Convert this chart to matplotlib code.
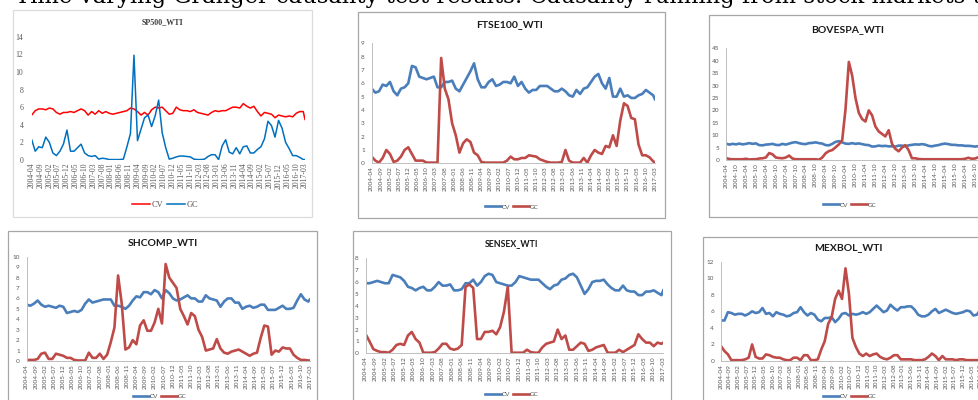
import numpy as np
import matplotlib.pyplot as plt
from matplotlib.patches import Rectangle

W, H = 979, 400

# month index counted from 2004-04, sampled every two months plus the last month (2017-03)
months = list(range(0, 155, 2)) + [155]

labels_5 = ["2004-04", "2004-09", "2005-02", "2005-07", "2005-12", "2006-05", "2006-10", "2007-03",
            "2007-08", "2008-01", "2008-06", "2008-11", "2009-04", "2009-09", "2010-02", "2010-07",
            "2010-12", "2011-05", "2011-10", "2012-03", "2012-08", "2013-01", "2013-06", "2013-11",
            "2014-04", "2014-09", "2015-02", "2015-07", "2015-12", "2016-05", "2016-10", "2017-03"]
labels_6 = ["2004-04", "2004-10", "2005-04", "2005-10", "2006-04", "2006-10", "2007-04", "2007-10",
            "2008-04", "2008-10", "2009-04", "2009-10", "2010-04", "2010-10", "2011-04", "2011-10",
            "2012-04", "2012-10", "2013-04", "2013-10", "2014-04", "2014-10", "2015-04", "2015-10",
            "2016-04", "2016-10"]

sp500_cv = [5.1, 5.6, 5.8, 5.8, 5.7, 5.9, 5.8, 5.4, 5.2, 5.4,
            5.4, 5.5, 5.4, 5.6, 5.8, 5.6, 5.1, 5.5, 5.2, 5.6,
            5.3, 5.5, 5.3, 5.2, 5.3, 5.4, 5.5, 5.6, 5.9, 5.8,
            5.5, 5.1, 5.4, 5.1, 5.7, 6.0, 5.9, 6.0, 5.6, 5.2,
            5.3, 6.0, 5.7, 5.6, 5.6, 5.5, 5.7, 5.4, 5.3, 5.2,
            5.1, 5.4, 5.6, 5.5, 5.6, 5.6, 5.8, 6.0, 6.0, 5.9,
            6.4, 6.1, 5.9, 6.1, 5.5, 5.0, 5.4, 5.3, 5.2, 4.8,
            5.1, 5.0, 4.9, 5.0, 4.9, 5.3, 5.5, 5.5, 4.6]
sp500_gc = [2.3, 1.0, 1.5, 1.4, 2.6, 2.0, 0.8, 0.5, 1.0, 1.8,
            3.4, 1.0, 1.0, 1.4, 1.8, 0.8, 0.5, 0.4, 0.5, 0.1,
            0.2, 0.15, 0.05, 0.05, 0.05, 0.05, 0.1, 1.5, 3.0, 11.9,
            2.2, 3.5, 4.8, 5.1, 3.8, 5.0, 6.8, 3.1, 1.4, 0.1,
            0.2, 0.35, 0.45, 0.45, 0.4, 0.35, 0.1, 0.05, 0.05, 0.1,
            0.4, 0.6, 0.6, 0.05, 1.6, 2.3, 0.9, 0.7, 1.4, 0.7,
            1.5, 1.6, 0.8, 0.8, 1.2, 1.5, 2.4, 4.4, 3.9, 2.6,
            4.5, 3.6, 2.0, 1.3, 0.5, 0.5, 0.3, 0.05, 0.05]

ftse_cv = [5.6, 5.3, 5.4, 5.9, 5.8, 6.1, 5.4, 5.1, 5.6, 5.7,
           6.0, 7.3, 7.2, 6.5, 6.4, 6.3, 6.4, 6.5, 5.7, 5.7,
           6.1, 6.1, 6.2, 5.6, 5.4, 5.9, 6.4, 6.9, 7.5, 6.3,
           5.7, 5.7, 6.1, 6.3, 5.8, 5.9, 6.1, 6.1, 6.0, 6.5,
           5.8, 6.1, 5.6, 5.3, 5.5, 5.5, 5.8, 5.8, 5.8, 5.6,
           5.4, 5.4, 5.6, 5.4, 5.1, 5.0, 5.5, 5.2, 5.6, 5.7,
           6.1, 6.5, 6.7, 6.0, 5.6, 6.4, 5.0, 5.0, 5.6, 5.0,
           5.1, 4.9, 4.9, 5.1, 5.2, 5.5, 5.3, 5.1, 4.8]
ftse_gc = [0.5, 0.2, 0.05, 0.4, 1.0, 0.7, 0.1, 0.2, 0.5, 1.0,
           1.2, 0.7, 0.2, 0.2, 0.2, 0.05, 0.05, 0.05, 0.05, 7.9,
           5.6, 4.8, 3.0, 2.1, 0.8, 1.5, 1.8, 1.6, 0.8, 0.6,
           0.1, 0.05, 0.05, 0.05, 0.05, 0.05, 0.05, 0.2, 0.5, 0.3,
           0.3, 0.4, 0.4, 0.6, 0.55, 0.5, 0.3, 0.2, 0.1, 0.05,
           0.05, 0.05, 0.1, 1.0, 0.2, 0.05, 0.05, 0.05, 0.4, 0.05,
           0.6, 1.0, 0.8, 0.7, 1.3, 1.2, 2.1, 1.3, 3.2, 4.5,
           4.3, 3.4, 3.3, 1.4, 0.6, 0.6, 0.45, 0.15, 0.05]

bovespa_cv = [6.6, 6.2, 6.5, 6.3, 6.6, 6.3, 6.5, 6.8, 6.5, 6.7,
              6.0, 5.9, 6.2, 6.3, 6.5, 6.1, 6.0, 6.5, 6.2, 6.6,
              7.0, 7.2, 6.8, 6.5, 6.4, 6.8, 6.9, 7.1, 6.8, 6.6,
              6.0, 5.9, 6.5, 7.3, 7.6, 7.1, 6.6, 6.5, 6.8, 6.5,
              6.7, 6.4, 6.1, 6.0, 5.4, 5.5, 5.8, 5.6, 5.7, 5.5,
              5.5, 5.4, 5.8, 5.8, 5.5, 5.9, 6.1, 6.3, 6.2, 6.4,
              6.2, 5.7, 5.5, 5.8, 6.0, 6.4, 6.6, 6.4, 6.1, 6.1,
              5.9, 5.9, 5.7, 5.7, 5.6, 5.4, 5.6, 5.8, 5.9]
bovespa_gc = [0.8, 0.4, 0.3, 0.3, 0.3, 0.3, 0.5, 0.2, 0.3, 0.3,
              0.6, 0.7, 1.0, 2.8, 2.3, 1.0, 0.8, 0.7, 1.0, 1.8,
              0.6, 0.3, 0.3, 0.3, 0.3, 0.3, 0.3, 0.3, 0.1, 1.0,
              2.7, 3.6, 4.0, 5.1, 6.3, 8.0, 20.5, 39.5, 34.0, 25.0,
              19.0, 16.5, 15.5, 20.0, 18.0, 13.5, 11.5, 10.5, 9.5, 12.0,
              6.5, 4.5, 3.5, 5.0, 6.0, 4.0, 0.7, 0.7, 0.4, 0.3,
              0.3, 0.3, 0.3, 0.3, 0.3, 0.3, 0.3, 0.3, 0.3, 0.3,
              0.3, 0.3, 0.5, 0.9, 0.5, 0.6, 1.1, 1.3, 1.4]

shcomp_cv = [5.4, 5.3, 5.5, 5.8, 5.4, 5.2, 5.3, 5.2, 5.1, 5.3,
             5.2, 4.6, 4.7, 4.8, 4.7, 4.9, 5.5, 5.9, 5.6, 5.7,
             5.8, 5.9, 5.9, 5.9, 5.3, 5.3, 5.2, 5.0, 5.3, 5.8,
             6.2, 6.1, 6.6, 6.6, 6.4, 6.8, 6.6, 6.0, 6.8, 6.5,
             6.0, 5.8, 5.9, 6.1, 6.3, 6.0, 6.0, 5.7, 5.7, 6.3,
             6.0, 5.9, 5.8, 5.2, 5.7, 6.0, 6.0, 5.6, 5.6, 5.0,
             5.2, 5.3, 5.1, 5.2, 5.4, 5.4, 4.9, 4.9, 4.9, 5.1,
             5.3, 5.0, 5.0, 5.1, 5.8, 6.4, 5.9, 5.7, 5.9]
shcomp_gc = [0.1, 0.1, 0.1, 0.2, 0.7, 0.8, 0.2, 0.2, 0.7, 0.6,
             0.5, 0.3, 0.3, 0.1, 0.05, 0.05, 0.05, 0.8, 0.3, 0.3,
             0.7, 0.2, 0.6, 1.8, 3.2, 8.2, 5.5, 1.1, 1.3, 2.0,
             1.6, 3.4, 3.9, 2.9, 2.9, 3.7, 5.0, 3.6, 9.3, 8.0,
             7.5, 7.0, 5.0, 4.3, 3.5, 4.6, 4.3, 3.0, 2.3, 1.0,
             1.1, 1.2, 2.1, 1.2, 0.8, 0.7, 0.9, 1.0, 1.1, 0.9,
             0.7, 0.5, 0.7, 0.8, 2.2, 3.4, 3.3, 0.6, 1.0, 0.9,
             1.3, 1.2, 1.2, 0.6, 0.3, 0.1, 0.1, 0.05, 0.05]

sensex_cv = [5.9, 5.9, 6.0, 6.1, 6.0, 5.9, 5.9, 6.6, 6.5, 6.4,
             6.1, 5.6, 5.5, 5.3, 5.5, 5.6, 5.3, 5.3, 5.6, 6.0,
             5.7, 5.7, 5.8, 5.3, 5.3, 5.4, 5.9, 5.9, 6.2, 5.7,
             6.0, 6.5, 6.7, 6.6, 6.0, 5.9, 5.8, 5.7, 5.7, 6.0,
             6.5, 6.4, 6.3, 6.2, 6.2, 6.2, 5.9, 5.6, 5.4, 5.7,
             5.8, 6.2, 6.3, 6.6, 6.7, 6.4, 5.7, 5.0, 5.4, 6.0,
             6.1, 6.1, 6.2, 5.8, 5.5, 5.3, 5.3, 5.7, 5.3, 5.2,
             5.2, 4.9, 4.9, 5.2, 5.2, 5.3, 5.1, 4.9, 5.3]
sensex_gc = [1.6, 1.0, 0.35, 0.2, 0.1, 0.1, 0.05, 0.3, 0.7, 0.8,
             0.7, 1.5, 1.8, 1.2, 0.9, 0.05, 0.05, 0.05, 0.1, 0.4,
             0.8, 0.8, 0.4, 0.3, 0.4, 0.7, 5.6, 5.8, 5.5, 1.2,
             1.2, 1.8, 1.8, 1.9, 1.6, 2.2, 3.5, 5.6, 0.05, 0.05,
             0.05, 0.05, 0.3, 0.1, 0.05, 0.05, 0.5, 0.8, 0.9, 1.0,
             2.0, 1.2, 1.5, 0.3, 0.3, 0.6, 0.9, 0.8, 0.2, 0.3,
             0.5, 0.6, 0.7, 0.05, 0.05, 0.05, 0.3, 0.1, 0.3, 0.5,
             0.7, 1.6, 1.2, 0.9, 0.9, 0.6, 0.9, 0.8, 0.9]

mexbol_cv = [4.9, 4.9, 5.9, 5.8, 5.6, 5.7, 5.7, 5.5, 5.7, 6.0,
             5.8, 5.9, 6.4, 5.7, 5.8, 5.4, 5.9, 5.7, 5.6, 5.4,
             5.5, 5.8, 5.9, 6.5, 5.9, 5.5, 5.8, 5.6, 5.0, 4.8,
             5.2, 5.2, 5.3, 4.7, 5.1, 5.7, 5.8, 5.5, 5.7, 5.6,
             5.7, 5.9, 5.7, 5.9, 6.3, 6.7, 6.3, 5.9, 6.1, 6.8,
             6.4, 6.1, 6.5, 6.5, 6.6, 6.6, 6.2, 5.6, 5.4, 5.4,
             5.6, 6.0, 6.3, 5.8, 6.0, 6.2, 6.0, 5.8, 5.7, 5.8,
             5.9, 6.1, 6.0, 5.5, 5.6, 6.2, 6.0, 5.8, 5.9]
mexbol_gc = [1.8, 1.2, 0.8, 0.1, 0.1, 0.1, 0.1, 0.2, 0.4, 2.0,
             0.5, 0.3, 0.3, 0.8, 0.7, 0.5, 0.4, 0.4, 0.2, 0.1,
             0.1, 0.4, 0.4, 0.1, 0.7, 0.7, 0.1, 0.1, 0.2, 1.4,
             2.4, 4.5, 5.3, 7.5, 8.5, 7.5, 11.2, 8.1, 2.8, 1.7,
             0.9, 0.6, 0.9, 0.6, 0.8, 0.9, 0.5, 0.3, 0.2, 0.4,
             0.7, 0.7, 0.2, 0.2, 0.2, 0.2, 0.1, 0.1, 0.1, 0.2,
             0.5, 0.9, 0.6, 0.1, 0.6, 0.2, 0.2, 0.2, 0.1, 0.2,
             0.2, 0.1, 0.1, 0.1, 0.1, 0.05, 0.05, 0.05, 0.05]

XL_BLUE, XL_RED = "#4a7ebb", "#be4b48"
SANS = ["Lato", "DejaVu Sans"]
SERIF = ["Liberation Serif", "DejaVu Serif"]


def fx(px):
    return px / W


def fy(py):
    return 1 - py / H


def draw_panel(fig, name, cv, gc, box, area, ymax, ystep, labels, lstep, title_xy, leg_xy,
               excel=True, title_size=7.5):
    l, t, r, b = box
    fig.add_artist(Rectangle((fx(l), fy(b)), fx(r) - fx(l), fy(t) - fy(b), transform=fig.transFigure,
                             fill=False, edgecolor="#a6a6a6" if excel else "#dcdcdc", lw=0.9))
    x0, x1, ybot, ytop = area
    ax = fig.add_axes([fx(x0), fy(ybot), fx(x1) - fx(x0), fy(ytop) - fy(ybot)])
    ax.patch.set_alpha(0)

    if excel:
        c_cv, c_gc, lw, fam = XL_BLUE, XL_RED, 1.9, SANS
    else:
        c_cv, c_gc, lw, fam = "#ff0000", "#0070c0", 1.1, SERIF

    l_cv, = ax.plot(months, cv, color=c_cv, lw=lw, solid_joinstyle="round", label="CV")
    l_gc, = ax.plot(months, gc, color=c_gc, lw=lw, solid_joinstyle="round", label="GC")
    if not excel:
        # GC drawn on top in the SP500 chart
        l_gc.set_zorder(3)

    ax.set_xlim(0, 155)
    ax.set_ylim(0, ymax)
    ax.set_yticks(np.arange(0, ymax + 0.01, ystep))
    ax.set_xticks(np.arange(len(labels)) * lstep, labels, rotation=90)
    fs = 4.6 if excel else 5.6
    ax.tick_params(length=0, labelsize=fs, labelcolor="#595959", pad=2)
    ax.tick_params(axis="y", pad=5 if excel else 6)
    for lab in ax.get_xticklabels() + ax.get_yticklabels():
        lab.set_family(fam)
    for side in ("top", "right"):
        ax.spines[side].set_visible(False)
    if excel:
        ax.spines["left"].set_color("#bfbfbf")
        ax.spines["bottom"].set_color("#bfbfbf")
        ax.spines["left"].set_linewidth(0.7)
        ax.spines["bottom"].set_linewidth(0.7)
    else:
        ax.spines["left"].set_visible(False)
        ax.spines["bottom"].set_visible(False)

    fig.text(fx(title_xy[0]), fy(title_xy[1]), name, ha="center", va="center",
             fontsize=title_size, fontweight="bold", family=fam,
             color="#1a1a1a" if excel else "#404040")

    leg = ax.legend(handles=[l_cv, l_gc], loc="center", bbox_to_anchor=(fx(leg_xy[0]), fy(leg_xy[1])),
                    bbox_transform=fig.transFigure, ncol=2, frameon=False,
                    handlelength=2.4 if excel else 2.2,
                    handletextpad=0.15, columnspacing=0.5,
                    prop={"family": fam, "size": 4.6 if excel else 6})
    for txt in leg.get_texts():
        txt.set_color("#595959")
    return ax


fig = plt.figure(figsize=(W / 100, H / 100), dpi=100)
fig.patch.set_facecolor("white")

# page heading, only its lower part is inside the crop
fig.text(fx(15), fy(3.5), "Time-varying Granger causality test results: Causality running from stock markets to oil",
         ha="left", va="baseline", fontsize=16.3, family=["DejaVu Serif"], color="black")

draw_panel(fig, "SP500_WTI", sp500_cv, sp500_gc, (13, 9.5, 312, 217), (31.7, 305, 160, 36.7),
           14, 2, labels_5, 5, (163, 22), (165, 205), excel=False, title_size=5.8)
draw_panel(fig, "FTSE100_WTI", ftse_cv, ftse_gc, (358, 12, 665, 218), (371.7, 655, 163.3, 43.3),
           9, 1, labels_5, 5, (510, 25), (512, 207))
draw_panel(fig, "BOVESPA_WTI", bovespa_cv, bovespa_gc, (709, 15, 1100, 217), (726, 983.3, 160, 48.3),
           45, 5, labels_6, 6, (848, 30), (850, 205))
draw_panel(fig, "SHCOMP_WTI", shcomp_cv, shcomp_gc, (8, 231, 317, 420), (26.7, 310, 361, 256.7),
           10, 1, labels_5, 5, (163, 243), (160, 396))
draw_panel(fig, "SENSEX_WTI", sensex_cv, sensex_gc, (353, 231, 671, 420), (365.7, 663.3, 353.3, 258.3),
           8, 1, labels_5, 5, (512, 244), (512, 394), title_size=6.3)
draw_panel(fig, "MEXBOL_WTI", mexbol_cv, mexbol_gc, (703, 237, 1100, 420), (721, 989, 361, 261.7),
           12, 2, labels_5, 5, (848, 248), (850, 396))

fig.savefig("out.png", dpi=100, facecolor="white")
